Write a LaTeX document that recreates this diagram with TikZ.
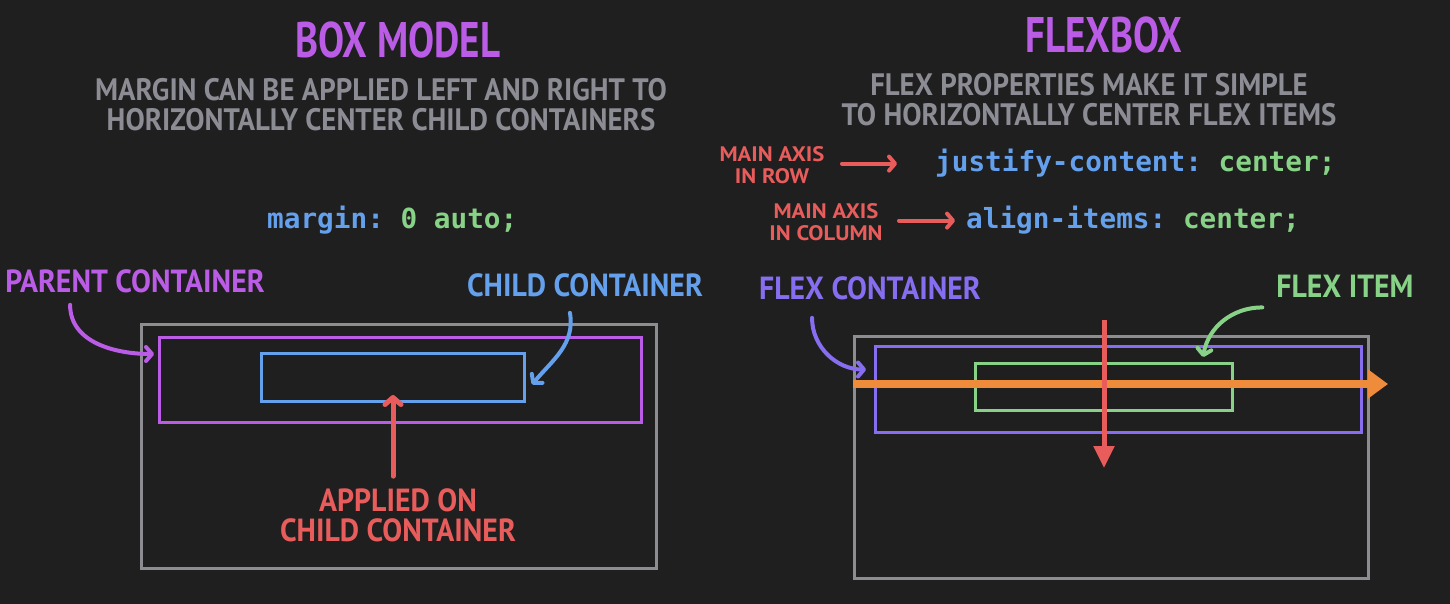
\documentclass[tikz,border=0pt]{standalone}
\usepackage{fontspec}
\setmonofont{DejaVu Sans Mono}
\newfontfamily\handfont[FakeStretch=0.78]{PT Sans}
\newfontfamily\handwide[FakeStretch=0.93]{PT Sans}
\newfontfamily\handsmall[FakeStretch=1.08]{PT Sans}
\usetikzlibrary{calc}
\usetikzlibrary{positioning}
\usetikzlibrary{arrows.meta}
\definecolor{bgdark}{RGB}{31,31,31}
\definecolor{boxpurple}{RGB}{186,92,230}
\definecolor{txtgrey}{RGB}{140,140,148}
\definecolor{codeblue}{RGB}{100,160,235}
\definecolor{codegreen}{RGB}{135,210,135}
\definecolor{axisred}{RGB}{232,92,92}
\definecolor{flexviolet}{RGB}{135,110,240}
\definecolor{axisorange}{RGB}{238,140,60}
\definecolor{boxgrey}{RGB}{140,140,145}
\tikzstyle{title} = [font=\handfont\bfseries\fontsize{50}{50}\selectfont,
text=boxpurple, inner sep=0pt]
\tikzstyle{subtitle} = [font=\handwide\bfseries\fontsize{31}{30}\selectfont,
text=txtgrey, align=center, inner sep=0pt]
\tikzstyle{lbl} = [font=\handwide\bfseries\fontsize{32}{30}\selectfont,
align=center, inner sep=0pt]
\tikzstyle{smalllbl} = [font=\handsmall\bfseries\fontsize{21}{22}\selectfont,
text=axisred, align=center, inner sep=0pt]
\tikzstyle{code} = [font=\ttfamily\bfseries\fontsize{27.7}{30}\selectfont, inner sep=0pt]
\tikzstyle{cssbox} = [line width=3pt, inner sep=0pt, anchor=north west]
\tikzstyle{hand} = [line width=4pt, line cap=round, -{Straight Barb[length=6pt,width=14pt,round]}]
\tikzstyle{axis} = [line width=5pt, axisred]

\begin{document}
\begin{tikzpicture}[x=1pt, y=-1pt]
    \path[fill=bgdark] (0,0) rectangle (1450,604);

    % ---- box model side
    \node[title] (boxtitle) at (398,40) {BOX MODEL};
    \node[subtitle] (boxsub) at (381,105) {MARGIN CAN BE APPLIED LEFT AND RIGHT TO\\HORIZONTALLY CENTER CHILD CONTAINERS};
    \node[code, anchor=base west] (margincode) at (267,229)
        {\color{codeblue}margin: \color{codegreen}0 auto;};

    \node[cssbox, draw=boxgrey, minimum width=515, minimum height=244] (outerbox) at (140,323) {};
    \node[cssbox, draw=boxpurple, minimum width=482, minimum height=85] (parentbox) at (158,336) {};
    \node[cssbox, draw=codeblue, minimum width=263, minimum height=48] (childbox) at (260,352) {};

    \node[lbl, text=boxpurple] (parentlbl) at (135,281) {PARENT CONTAINER};
    \node[lbl, text=codeblue] (childlbl) at (585,285) {CHILD CONTAINER};
    \node[lbl, text=axisred] (appliedlbl) at (398,515) {APPLIED ON\\CHILD CONTAINER};

    \draw[hand, boxpurple] ($(parentlbl.south west)+(65,12)$)
        to[out=-90, in=180] ($(parentbox.north west)+(-4,18)$);
    \draw[hand, codeblue] ($(childlbl.south west)+(103,16)$)
        to[out=-80, in=50] ($(childbox.east)+(6,7)$);
    \draw[axis, line cap=round, -{Straight Barb[length=7pt,width=16pt,round]}]
        ([yshift=12pt]appliedlbl.north -| childbox.south) -- ([yshift=8pt]childbox.south);

    % ---- flexbox side
    \node[title] (flextitle) at (1104,35) {FLEXBOX};
    \node[subtitle] (flexsub) at (1089,100) {FLEX PROPERTIES MAKE IT SIMPLE\\TO HORIZONTALLY CENTER FLEX ITEMS};

    \node[code, anchor=base west] (justifycode) at (935,172)
        {\color{codeblue}justify-content: \color{codegreen}center;};
    \node[code, anchor=base west] (aligncode) at (966,229)
        {\color{codeblue}align-items: \color{codegreen}center;};
    \node[smalllbl] (rowlbl) at (772,165) {MAIN AXIS\\IN ROW};
    \node[smalllbl] (collbl) at (826,222) {MAIN AXIS\\IN COLUMN};

    \draw[line width=4pt, axisred, line cap=round, -{Straight Barb[length=6pt,width=14pt,round]}]
        ([xshift=-93pt]justifycode.west) -- ([xshift=-38pt]justifycode.west);
    \draw[line width=4pt, axisred, line cap=round, -{Straight Barb[length=6pt,width=14pt,round]}]
        ([xshift=-67pt]aligncode.west) -- ([xshift=-11pt]aligncode.west);

    \node[cssbox, draw=boxgrey, minimum width=514, minimum height=242] (flexouter) at (853,335) {};
    \node[cssbox, draw=flexviolet, minimum width=486, minimum height=86] (flexbox) at (874,345) {};
    \node[cssbox, draw=codegreen, minimum width=257, minimum height=47] (flexitem) at (974,362) {};

    \node[lbl, text=flexviolet] (flexlbl) at (870,288) {FLEX CONTAINER};
    \node[lbl, text=codegreen] (itemlbl) at (1345,286) {FLEX ITEM};

    % axes through the container
    \coordinate (rowend) at (1388,384);
    \coordinate (coltop) at (1104,320);
    \coordinate (colend) at (1104,468);
    \draw[line width=8pt, axisorange, -{Triangle[length=20pt,width=28pt]}]
        (flexouter.west |- rowend) -- (rowend);
    \draw[axis, -{Triangle[length=22pt,width=20pt]}] (coltop) -- (colend);

    \draw[hand, flexviolet] ($(flexlbl.south west)+(53,18)$)
        to[out=-90, in=180] ($(flexbox.west)+(-8,-20)$);
    \draw[hand, codegreen] ($(itemlbl.south west)+(-14,10)$)
        to[out=180, in=80] ($(flexitem.north east)+(-31,-5)$);
\end{tikzpicture}
\end{document}
